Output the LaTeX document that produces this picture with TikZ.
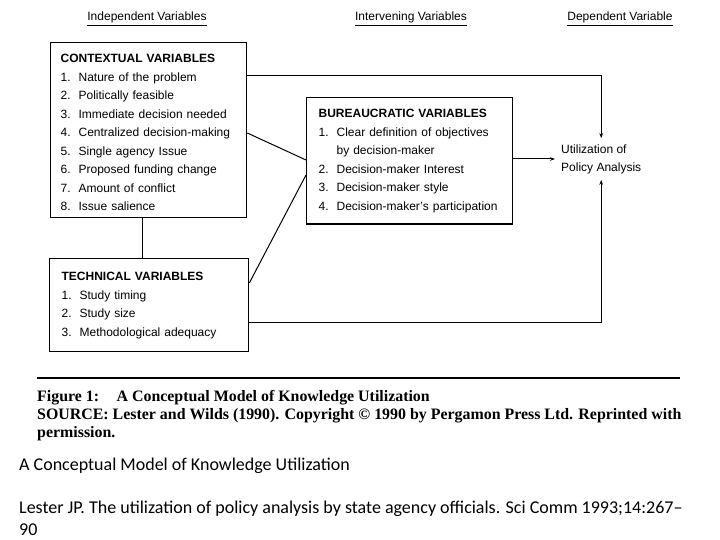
\documentclass[tikz,border=0pt]{standalone}
\usepackage{fontspec}
\setmainfont{Liberation Serif}
\setsansfont{Liberation Sans}
\newfontfamily\calibri{Carlito}
\usetikzlibrary{positioning,arrows.meta}
\newcommand{\itemno}[1]{\makebox[18pt][l]{#1}}
\newcommand{\topstrut}[1]{\rule{0pt}{#1}}
\newcommand{\botstrut}[1]{\rule[-#1]{0pt}{#1}}

\begin{document}
\begin{tikzpicture}[x=1pt, y=-1pt,
    varbox/.style={draw, line width=1.3pt, anchor=north west, inner ysep=0pt, align=left,
      font=\sffamily\fontsize{12}{18.5}\selectfont},
    head/.style={anchor=base, inner sep=0pt, font=\sffamily\fontsize{12}{14}\selectfont},
    caption/.style={anchor=base west, inner sep=0pt, font=\bfseries\fontsize{15.9}{18}\selectfont},
    note/.style={anchor=base west, inner sep=0pt, font=\calibri\fontsize{18}{22}\selectfont},
    conn/.style={line width=1pt},
    arr/.style={conn, -{Stealth[length=5pt,width=3.5pt]}}]
    \useasboundingbox (0,0) rectangle (720,540);

    \node[head] (indep) at (147,21) {\underline{Independent Variables}};
    \node[head] (interv) at (411,21) {\underline{Intervening Variables}};
    \node[head] (dep) at (620,21) {\underline{Dependent Variable}};

    \node[varbox, inner xsep=10pt, text width=176pt] (ctx) at (50,42)
      {\topstrut{20pt}\textbf{CONTEXTUAL VARIABLES}\\
       \itemno{1.}Nature of the problem\\
       \itemno{2.}Politically feasible\\
       \itemno{3.}Immediate decision needed\\
       \itemno{4.}Centralized decision-making\\
       \itemno{5.}Single agency Issue\\
       \itemno{6.}Proposed funding change\\
       \itemno{7.}Amount of conflict\\
       \itemno{8.}Issue salience\botstrut{7pt}};

    \node[varbox, inner xsep=12pt, text width=175pt] (tech) at (49,258)
      {\topstrut{22pt}\textbf{TECHNICAL VARIABLES}\\
       \itemno{1.}Study timing\\
       \itemno{2.}Study size\\
       \itemno{3.}Methodological adequacy\botstrut{15pt}};

    \node[varbox, inner xsep=12pt, text width=182pt] (bur) at (306,97)
      {\topstrut{20pt}\textbf{BUREAUCRATIC VARIABLES}\\
       \itemno{1.}Clear definition of objectives\\
       \itemno{}by decision-maker\\
       \itemno{2.}Decision-maker Interest\\
       \itemno{3.}Decision-maker style\\
       \itemno{4.}Decision-maker's participation\botstrut{14pt}};

    \node[anchor=west, inner sep=6pt, align=left, font=\sffamily\fontsize{12}{18}\selectfont]
      (util) at (555,159) {Utilization of\\Policy Analysis};

    \draw[conn] (ctx.south -| 142,0) -- (tech.north -| 142,0);
    \draw[conn] (ctx.east |- 0,133) -- (bur.west |- 0,160);
    \draw[conn] (tech.east |- 0,283) -- (bur.west |- 0,175);
    \draw[arr] (ctx.east |- 0,76) -| (util.north);
    \draw[arr] (tech.east |- 0,322) -| (util.south);
    \draw[arr] (bur.east |- util.west) -- (util.west);

    \draw[line width=2.2pt] (37,378) -- (680,378);
    \node[caption] (fig) at (37,401) {Figure 1:\hspace{1.1em}A Conceptual Model of Knowledge Utilization};
    \node[caption] (src) at (37,419) {SOURCE: Lester and Wilds (1990). Copyright © 1990 by Pergamon Press Ltd. Reprinted with};
    \node[caption] (perm) at (37,437) {permission.};

    \node[note] (title) at (19,470) {A Conceptual Model of Knowledge Utilization};
    \node[note] (ref) at (19,513) {Lester JP. The utilization of policy analysis by state agency officials. Sci Comm 1993;14:267–};
    \node[note] (refend) at (19,535) {90};
\end{tikzpicture}
\end{document}
